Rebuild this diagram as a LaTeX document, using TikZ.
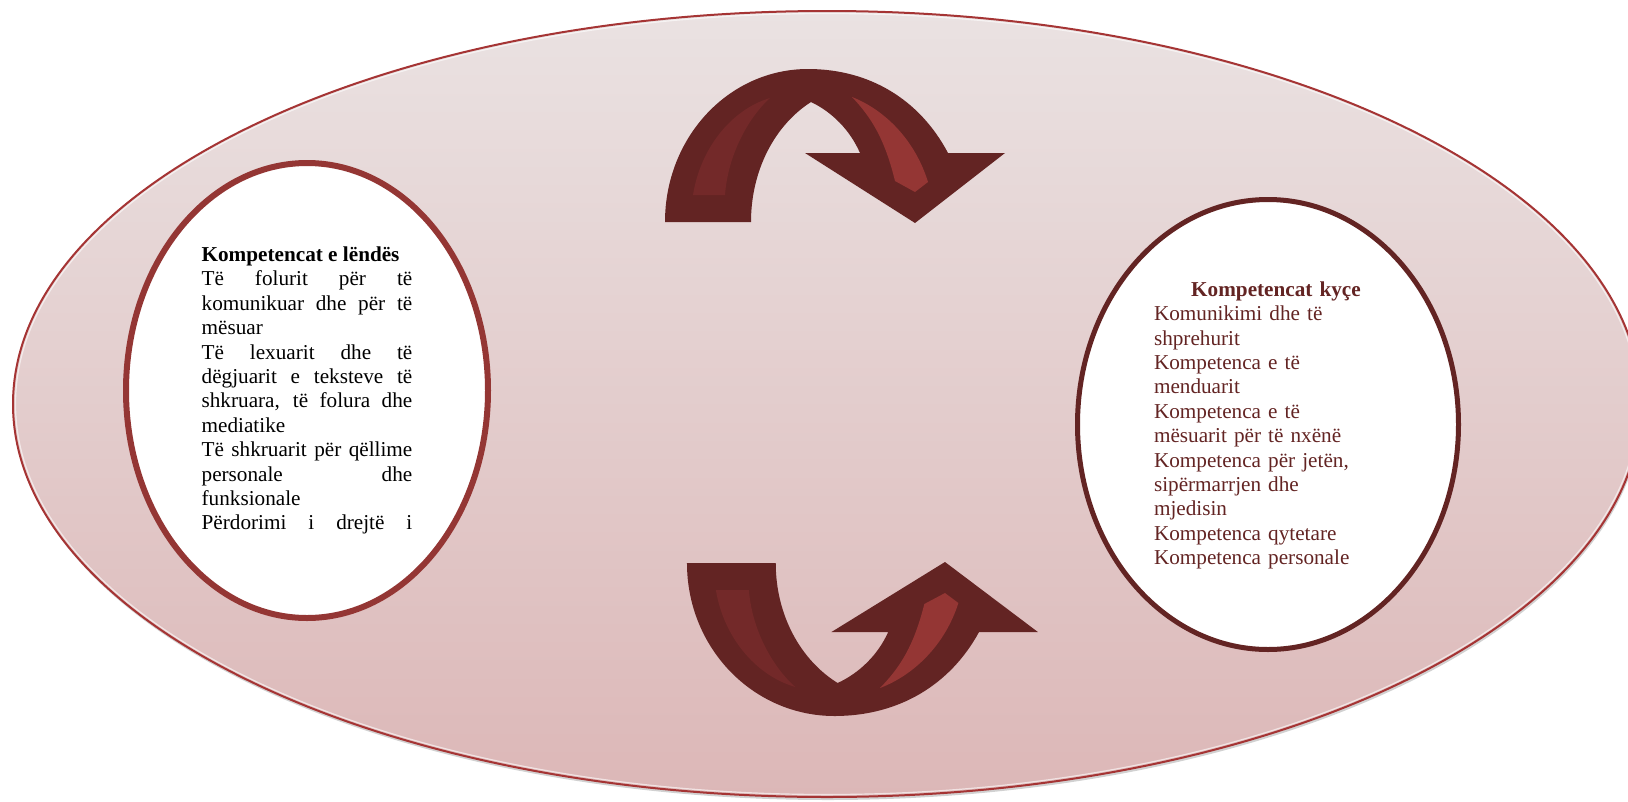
\documentclass[tikz,border=0pt]{standalone}
\usepackage{fontspec}
\setmainfont{Liberation Serif}
\usepackage{xcolor}
\usetikzlibrary{shapes}
\definecolor{darkred}{RGB}{99,36,35}
\definecolor{midred}{RGB}{148,54,52}
\definecolor{stripered}{RGB}{115,41,41}
\definecolor{rimred}{RGB}{165,52,52}
\definecolor{bgtop}{RGB}{234,226,226}
\definecolor{bgbottom}{RGB}{220,183,183}

\begin{document}
\begin{tikzpicture}[x=1pt,y=-1pt,
        oval/.style={ellipse,fill=white,inner sep=0pt},
        ovaltext/.style={inner sep=0pt,font=\fontsize{21.2}{24.4}\selectfont},
        arrowbody/.style={fill=darkred},
        stripeleft/.style={fill=stripered},
        striperight/.style={fill=midred}]
                \useasboundingbox (0,0) rectangle (1628,801);
                % Draw background ellipse
                \fill[gray!60,opacity=0.6] (828,407) ellipse (814 and 393);
                \draw[rimred,line width=2pt,top color=bgtop,bottom color=bgbottom] (827,404) ellipse (814 and 393);
                \draw[white,opacity=0.6,line width=1.2pt] (827,404) ellipse (811.5 and 390.5);

                % Left oval
                \node[oval,draw=midred,line width=6pt,minimum width=362pt,minimum height=455pt] (lendaOval) at (307,390.5) {};
                \node[ovaltext,text width=210.7pt,align=justify] (lendaText) at (lendaOval.center) {\textbf{Kompetencat e lëndës}\\
                        Të folurit për të\linebreak komunikuar dhe për të\linebreak mësuar\par
                        Të lexuarit dhe të\linebreak dëgjuarit e teksteve të\linebreak shkruara, të folura dhe\linebreak mediatike\par
                        Të shkruarit për qëllime\linebreak personale dhe\linebreak funksionale\par
                        {\parfillskip=0pt Përdorimi i drejtë i\par}};

                % Right oval
                \node[oval,draw=darkred,line width=5pt,minimum width=381pt,minimum height=450pt] (kyceOval) at (1268,424.5) {};
                \node[ovaltext,text=darkred,text width=244pt,align=left] (kyceText) at (1276,425.4) {{\centering\textbf{Kompetencat kyçe}\par}
                        Komunikimi dhe të\\ shprehurit\\ Kompetenca e të\\ menduarit\\ Kompetenca e të\\ mësuarit për të nxënë\\
                        Kompetenca për jetën,\\ sipërmarrjen dhe\\ mjedisin\\ Kompetenca qytetare\\ Kompetenca personale};

                % Top arrow
                \fill[arrowbody] (665,222) .. controls (665,137) and (729,69) .. (808,69)
                        .. controls (870,69) and (920,100) .. (948,153)
                        -- (1005,153) -- (915,223) -- (805,153) -- (860,153)
                        .. controls (850,130) and (832,112) .. (811,102)
                        .. controls (775,125) and (751,170) .. (751,222) -- cycle;
                \fill[stripeleft] (693,195) .. controls (700,150) and (730,110) .. (770,98)
                        .. controls (748,118) and (728,155) .. (725,195) -- cycle;
                \fill[striperight] (852,97) .. controls (885,110) and (915,140) .. (928,182)
                        -- (915,192) -- (895,181) .. controls (885,140) and (872,118) .. (852,97) -- cycle;

                % Bottom arrow (mirrored)
                \begin{scope}[shift={(0.7,785)},xscale=1.032,yscale=-1]
                \fill[arrowbody] (665,222) .. controls (665,137) and (729,69) .. (808,69)
                        .. controls (870,69) and (920,100) .. (948,153)
                        -- (1005,153) -- (915,223) -- (805,153) -- (860,153)
                        .. controls (850,130) and (832,112) .. (811,102)
                        .. controls (775,125) and (751,170) .. (751,222) -- cycle;
                \fill[stripeleft] (693,195) .. controls (700,150) and (730,110) .. (770,98)
                        .. controls (748,118) and (728,155) .. (725,195) -- cycle;
                \fill[striperight] (852,97) .. controls (885,110) and (915,140) .. (928,182)
                        -- (915,192) -- (895,181) .. controls (885,140) and (872,118) .. (852,97) -- cycle;
                \end{scope}
            \end{tikzpicture}
\end{document}
